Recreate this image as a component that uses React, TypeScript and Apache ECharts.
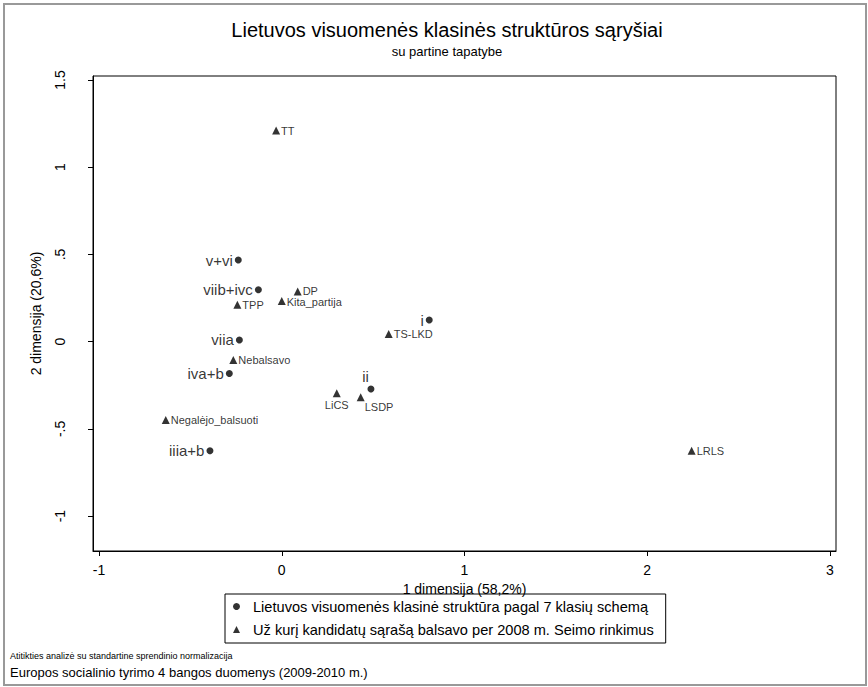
import React, { useEffect, useRef } from "react";
import * as echarts from "echarts";

const titleText = "Lietuvos visuomenės klasinės struktūros sąryšiai";
const subtitleText = "su partine tapatybe";
const xAxisTitle = "1 dimensija (58,2%)";
const yAxisTitle = "2 dimensija (20,6%)";
const legendClass = "Lietuvos visuomenės klasinė struktūra pagal 7 klasių schemą";
const legendParty = "Už kurį kandidatų sąrašą balsavo per 2008 m. Seimo rinkimus";
const note1 = "Atitikties analizė su standartine sprendinio normalizacija";
const note2 = "Europos socialinio tyrimo 4 bangos duomenys (2009-2010 m.)";

const classNames = ["v+vi", "viib+ivc", "i", "viia", "iva+b", "ii", "iiia+b"];
const classX = [-0.238, -0.128, 0.807, -0.232, -0.287, 0.488, -0.393];
const classY = [0.468, 0.298, 0.124, 0.01, -0.182, -0.271, -0.625];

const partyNames = ["TT", "DP", "TPP", "Kita_partija", "TS-LKD", "Nebalsavo", "LiCS", "LSDP", "Negalėjo_balsuoti", "LRLS"];
const partyX = [-0.031, 0.087, -0.243, 0.0, 0.585, -0.265, 0.301, 0.432, -0.635, 2.243];
const partyY = [1.21, 0.287, 0.212, 0.233, 0.044, -0.105, -0.296, -0.319, -0.449, -0.625];

const xTicks = [-1, 0, 1, 2, 3];
const yTicks = [-1, -0.5, 0, 0.5, 1, 1.5];

const FONT = '"Liberation Sans", Arial, Helvetica, sans-serif';

const classLabelStyle: Record<string, any> = {
  ii: { position: "top", align: "right", offset: [-2, 1] },
};
const partyLabelStyle: Record<string, any> = {
  DP: { offset: [0, -1] },
  Kita_partija: { offset: [0, 1] },
  LiCS: { position: "bottom", distance: 2 },
  LSDP: { position: "bottom", align: "left", offset: [4, -1] },
};

export default function App() {
  const ref = useRef<HTMLDivElement>(null);
  useEffect(() => {
    const chart = echarts.init(ref.current!, null, { renderer: "svg" });
    const fmt = (v: number) => String(v).replace("0.", ".");
    const classData = classNames.map((n, i) => {
      const it: any = { name: n, value: [classX[i], classY[i]] };
      if (classLabelStyle[n]) it.label = classLabelStyle[n];
      return it;
    });
    const partyData = partyNames.map((n, i) => {
      const it: any = { name: n, value: [partyX[i], partyY[i]] };
      if (partyLabelStyle[n]) it.label = partyLabelStyle[n];
      return it;
    });
    const txt = (text: string, x: number, y: number, size: number, align = "center") => ({
      type: "text",
      x,
      y,
      silent: true,
      style: {
        text,
        fontSize: size,
        fontFamily: FONT,
        fill: "#000",
        align,
        textAlign: align,
        verticalAlign: "middle",
        textVerticalAlign: "middle",
      },
    });
    chart.setOption({
      animation: false,
      backgroundColor: "#fff",
      textStyle: { fontFamily: FONT },
      grid: {
        left: 93,
        top: 76,
        width: 743,
        height: 475,
        show: true,
        borderColor: "#000",
        borderWidth: 1,
        backgroundColor: "transparent",
      },
      xAxis: {
        type: "value",
        min: -1.033,
        max: 3.033,
        name: xAxisTitle,
        nameLocation: "middle",
        nameGap: 27,
        nameTextStyle: { fontSize: 14, color: "#000", fontFamily: FONT },
        axisLine: { show: true, onZero: false, lineStyle: { color: "#000", width: 1 } },
        axisTick: { show: true, customValues: xTicks, length: 5, lineStyle: { color: "#000" } },
        axisLabel: { customValues: xTicks, formatter: fmt, fontSize: 14, color: "#000", margin: 12, fontFamily: FONT },
        splitLine: { show: false },
      },
      yAxis: {
        type: "value",
        min: -1.2,
        max: 1.523,
        name: yAxisTitle,
        nameLocation: "middle",
        nameGap: 50,
        nameRotate: 90,
        nameTextStyle: { fontSize: 14, color: "#000", fontFamily: FONT },
        axisLine: { show: true, onZero: false, lineStyle: { color: "#000", width: 1 } },
        axisTick: { show: true, customValues: yTicks, length: 5, lineStyle: { color: "#000" } },
        axisLabel: { customValues: yTicks, formatter: fmt, rotate: 90, fontSize: 14, color: "#000", margin: 26, fontFamily: FONT },
        splitLine: { show: false },
      },
      legend: {
        orient: "vertical",
        left: 225,
        top: 594,
        data: [
          { name: legendClass, icon: "circle" },
          { name: legendParty, icon: "triangle" },
        ],
        itemWidth: 7,
        itemHeight: 7,
        itemGap: 8,
        textStyle: { fontSize: 14.6, color: "#000", fontFamily: FONT, padding: [0, 0, 0, 8] },
        borderColor: "#000",
        borderWidth: 1,
        padding: [5, 12, 6, 8],
        selectedMode: false,
      },
      graphic: [
        {
          type: "rect",
          shape: { x: 4, y: 4, width: 862, height: 681 },
          style: { fill: "none", stroke: "#999999", lineWidth: 2 },
          silent: true,
        },
        txt(titleText, 447, 30, 20),
        txt(subtitleText, 447, 51, 13),
        txt(note1, 10, 656, 9, "left"),
        txt(note2, 10, 672, 13, "left"),
      ],
      series: [
        {
          name: legendClass,
          type: "scatter",
          symbol: "circle",
          symbolSize: 7,
          itemStyle: { color: "#000" },
          data: classData,
          label: {
            show: true,
            position: "left",
            distance: 2,
            formatter: "{b}",
            fontSize: 15,
            color: "#000",
            fontFamily: FONT,
          },
        },
        {
          name: legendParty,
          type: "scatter",
          symbol: "triangle",
          symbolSize: 8,
          itemStyle: { color: "#000" },
          data: partyData,
          label: {
            show: true,
            position: "right",
            distance: 1,
            formatter: "{b}",
            fontSize: 11,
            color: "#000",
            fontFamily: FONT,
          },
        },
      ],
    });
    return () => chart.dispose();
  }, []);
  return (
    <div
      ref={ref}
      style={{ position: "fixed", left: 0, top: 0, width: 868, height: 687 }}
    />
  );
}
